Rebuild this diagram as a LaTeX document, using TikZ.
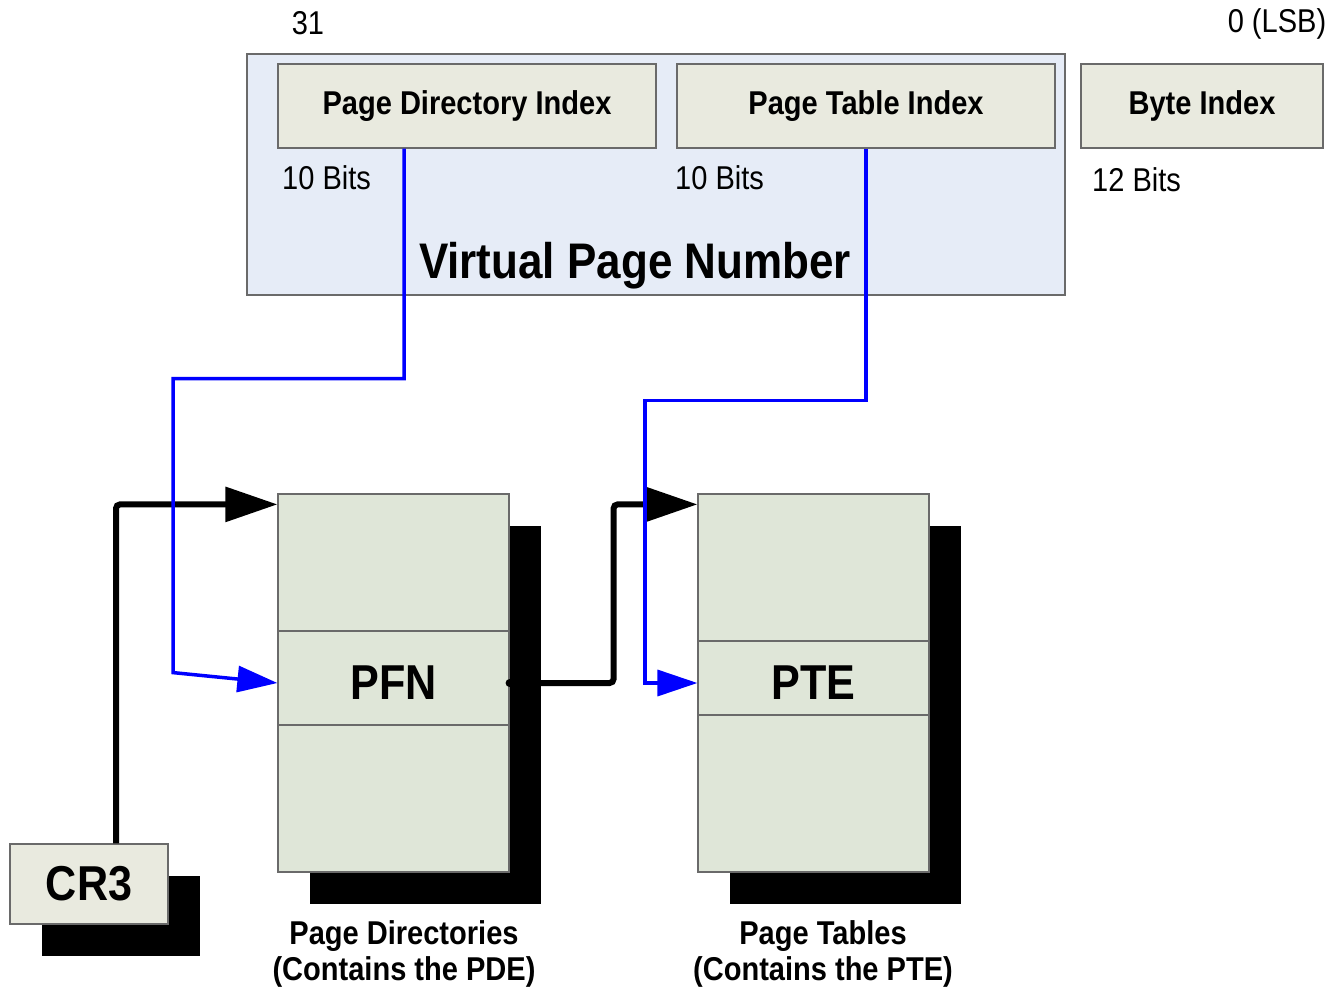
\documentclass[tikz,border=0pt]{standalone}
\usepackage{fontspec}
\setmainfont[FakeStretch=0.88]{Liberation Sans}
\usetikzlibrary{positioning, arrows.meta, shadows}
\definecolor{vpnBlue}{HTML}{E6ECF7}
\definecolor{idxBeige}{HTML}{E9EADF}
\definecolor{tblGreen}{HTML}{DFE6D8}
\definecolor{edgeGray}{HTML}{6A6A6A}
\definecolor{ptrBlue}{HTML}{0000FF}

\begin{document}
\begin{tikzpicture}[x=1pt, y=-1pt,
  field/.style={draw=edgeGray, line width=1.2pt, fill=idxBeige, inner sep=0pt,
                minimum width=378pt, minimum height=84pt,
                font=\fontsize{33}{38}\selectfont\bfseries},
  bits/.style={font=\fontsize{33}{38}\selectfont, inner sep=0pt},
  table/.style={draw=edgeGray, line width=1.2pt, fill=tblGreen, inner sep=0pt,
                minimum width=231pt, minimum height=378pt,
                drop shadow={shadow xshift=32pt, shadow yshift=-32pt, fill=black, opacity=1}},
  entry/.style={draw=edgeGray, line width=1.2pt, fill=tblGreen, inner sep=0pt,
                minimum width=231pt, text height=42pt, text depth=0pt,
                font=\fontsize{49}{54}\selectfont\bfseries},
  caption/.style={font=\fontsize{33}{36}\selectfont\bfseries, align=center, inner sep=0pt},
  bigarrow/.style={line width=6pt, rounded corners=4pt,
                   -{Triangle[length=52pt, width=34pt]}},
  idxarrow/.style={ptrBlue, line width=3.5pt,
                   -{Triangle[length=40pt, width=26pt]}},
]
  \useasboundingbox (0,0) rectangle (1331,990);

  \node[bits] (msb) at (308,23) {31};
  \node[bits] (lsb) at (1277,24) {0 (LSB)};

  \node[draw=edgeGray, line width=1.2pt, fill=vpnBlue, minimum width=818pt,
        minimum height=241pt, inner sep=0pt] (vpn) at (656,174.5) {};
  \node[font=\fontsize{50}{54}\selectfont\bfseries, inner sep=0pt] (vpnlabel) at (635,266)
    {Virtual Page Number};

  \node[field] (pdi) at (467,106) {Page Directory Index};
  \node[field] (pti) at (866,106) {Page Table Index};
  \node[field, minimum width=242pt] (byteidx) at (1202,106) {Byte Index};

  \node[bits, anchor=west] (pdibits) at (282,178) {10 Bits};
  \node[bits, anchor=west] (ptibits) at (675,178) {10 Bits};
  \node[bits, anchor=west] (bytebits) at (1092,180) {12 Bits};

  \node[table] (pd) at (393.5,683) {};
  \node[entry, minimum height=94pt] (pfn) at (393.5,678) {PFN};
  \node[table] (pt) at (813.5,683) {};
  \node[entry, minimum height=74pt] (pte) at (813.5,678) {PTE};

  \node[draw=edgeGray, line width=1.2pt, fill=idxBeige, minimum width=158pt,
        minimum height=80pt, inner sep=0pt, font=\fontsize{49}{54}\selectfont\bfseries,
        drop shadow={shadow xshift=32pt, shadow yshift=-32pt, fill=black, opacity=1}]
    (cr3) at (89,884) {CR3};

  \node[caption] (pdcap) at (404,954) {Page Directories\\(Contains the PDE)};
  \node[caption] (ptcap) at (823,954) {Page Tables\\(Contains the PTE)};

  \draw[bigarrow] ([xshift=27pt]cr3.north) |- ([yshift=-11pt]pd.north west);
  \fill ([yshift=-5pt]pfn.east) circle (4pt);
  \draw[bigarrow] ([yshift=-5pt]pfn.east) -- ++(104,0) |- ([yshift=-11pt]pt.north west);

  \draw[idxarrow] ([xshift=-63pt]pdi.south) -- ++(0,230) -- ++(-231,0) -- ++(0,294)
    -- ([yshift=-5pt]pfn.west);
  \draw[idxarrow] (pti.south) -- ++(0,252) -- ++(-221,0) |- ([yshift=-5pt]pte.west);
\end{tikzpicture}
\end{document}
